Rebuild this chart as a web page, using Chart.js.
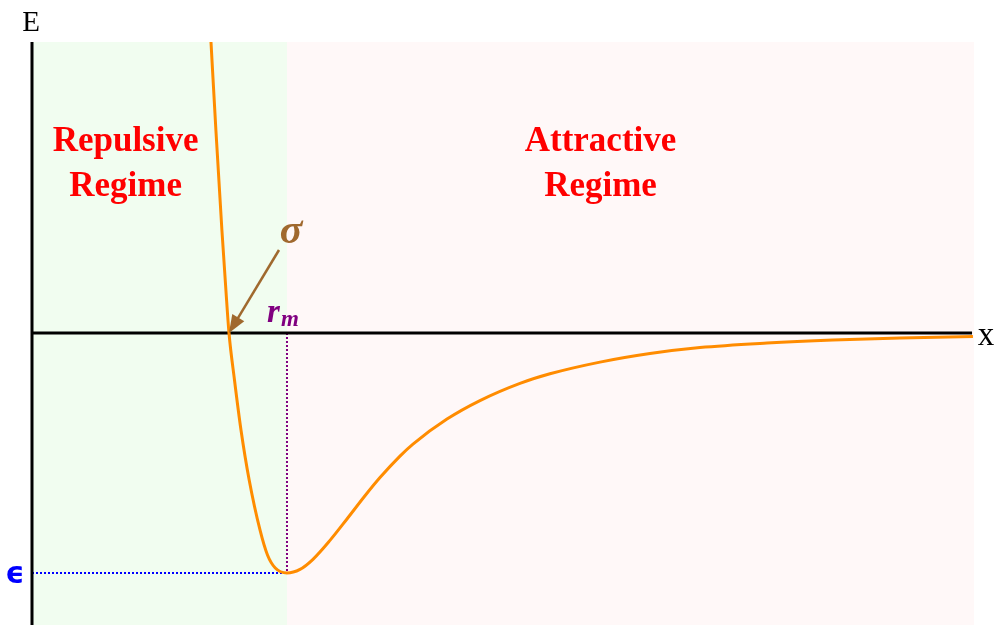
<!DOCTYPE html>
<html>
<head>
<meta charset="utf-8">
<script src="https://cdn.jsdelivr.net/npm/chart.js@4.4.0/dist/chart.umd.min.js"></script>
<style>
  body { margin: 0; background: #fff; }
  #wrap { width: 994px; height: 625px; }
</style>
</head>
<body>
<div id="wrap"><canvas id="chart" width="994" height="625"></canvas></div>
<script>
// separation r (in units of sigma) and energy E (in units of epsilon)
const rValues = [0.9086, 0.9335, 0.964, 0.9843, 1.0, 1.0279, 1.0609, 1.1025, 1.1574, 1.1954, 1.235,
  1.2944, 1.3604, 1.4264, 1.5127, 1.599, 1.6904, 1.7665, 1.868, 1.934, 2.1066, 2.2741, 2.4772,
  2.6294, 2.8832, 3.1371, 3.3909, 3.731, 4.066, 4.4061, 4.7766]
const energyValues = [1.2125, 0.8458, 0.4292, 0.1792, 0, -0.1958, -0.4042, -0.6125, -0.8208, -0.925, -0.9792,
  -1.0, -0.985, -0.9429, -0.8642, -0.775, -0.6783, -0.6025, -0.5129, -0.4629, -0.3588, -0.2817, -0.21,
  -0.17, -0.1213, -0.0854, -0.0604, -0.0417, -0.0292, -0.0208, -0.0146]

const sigma = 1.0
const rMin = 1.2944
const wellDepth = -1.0
const xRange = [0, 4.782]
const yRange = [-1.2167, 1.2125]
const xAxisEnd = 4.772

const regionLabels = [
  { lines: ['Repulsive', 'Regime'], x: 0.475 },
  { lines: ['Attractive', 'Regime'], x: 2.886 }
]

const curve = rValues.map((r, i) => ({ x: r, y: energyValues[i] }))

const backgrounds = {
  id: 'backgrounds',
  beforeDatasetsDraw(chart) {
    const { ctx, chartArea, scales: { x } } = chart
    const split = x.getPixelForValue(rMin)
    ctx.save()
    ctx.fillStyle = '#f1fdf0'
    ctx.fillRect(chartArea.left, chartArea.top, split - chartArea.left, chartArea.bottom - chartArea.top)
    ctx.fillStyle = '#fff8f8'
    ctx.fillRect(split, chartArea.top, chartArea.right - split, chartArea.bottom - chartArea.top)
    ctx.restore()
  }
}

const annotations = {
  id: 'annotations',
  afterDraw(chart) {
    const { ctx, scales: { x, y } } = chart
    ctx.save()
    ctx.textAlign = 'center'
    ctx.textBaseline = 'alphabetic'

    // region labels
    ctx.fillStyle = '#ff0000'
    ctx.font = 'bold 35px "Liberation Serif", "Times New Roman", serif'
    regionLabels.forEach(lbl => {
      const px = x.getPixelForValue(lbl.x)
      ctx.fillText(lbl.lines[0], px, 151)
      ctx.fillText(lbl.lines[1], px, 196)
    })

    // sigma arrow
    const tipX = x.getPixelForValue(sigma)
    const tipY = y.getPixelForValue(0)
    const startX = tipX + 50
    const startY = tipY - 83
    const ang = Math.atan2(tipY - startY, tipX - startX)
    const head = 18
    ctx.strokeStyle = '#a0692e'
    ctx.fillStyle = '#a0692e'
    ctx.lineWidth = 2.5
    ctx.beginPath()
    ctx.moveTo(startX, startY)
    ctx.lineTo(tipX - head * 0.8 * Math.cos(ang), tipY - head * 0.8 * Math.sin(ang))
    ctx.stroke()
    ctx.beginPath()
    ctx.moveTo(tipX, tipY)
    ctx.lineTo(tipX - head * Math.cos(ang) + 7 * Math.sin(ang), tipY - head * Math.sin(ang) - 7 * Math.cos(ang))
    ctx.lineTo(tipX - head * Math.cos(ang) - 7 * Math.sin(ang), tipY - head * Math.sin(ang) + 7 * Math.cos(ang))
    ctx.closePath()
    ctx.fill()
    ctx.font = 'bold italic 42px "Liberation Serif", serif'
    ctx.fillText('σ', tipX + 62, tipY - 90)

    // r_m label
    const rmX = x.getPixelForValue(rMin)
    ctx.fillStyle = '#800080'
    ctx.textAlign = 'left'
    ctx.font = 'bold italic 33px "Liberation Serif", serif'
    ctx.fillText('r', rmX - 20, tipY - 11)
    ctx.font = 'bold italic 23px "Liberation Serif", serif'
    ctx.fillText('m', rmX - 6, tipY - 7)

    // epsilon
    ctx.fillStyle = '#0000ff'
    ctx.textAlign = 'center'
    ctx.font = 'bold 30px "DejaVu Sans", sans-serif'
    ctx.fillText('ϵ', 15, y.getPixelForValue(wellDepth) + 10)

    // axis names
    ctx.fillStyle = '#000'
    ctx.font = '29px "Liberation Serif", serif'
    ctx.fillText('E', 31, 31)
    ctx.font = '33px "Liberation Serif", serif'
    ctx.fillText('x', 986, 345)
    ctx.restore()
  }
}

new Chart(document.getElementById('chart'), {
  type: 'scatter',
  data: {
    datasets: [
      {
        label: 'E(r)',
        data: curve,
        showLine: true,
        borderColor: '#ff8c00',
        borderWidth: 3,
        pointRadius: 0,
        cubicInterpolationMode: 'monotone',
        order: 1
      },
      {
        label: 'epsilon',
        data: [{ x: xRange[0], y: wellDepth }, { x: rMin, y: wellDepth }],
        showLine: true,
        borderColor: '#0000ff',
        borderWidth: 2,
        borderDash: [2, 2],
        pointRadius: 0,
        order: 3
      },
      {
        label: 'r_m',
        data: [{ x: rMin, y: 0 }, { x: rMin, y: wellDepth }],
        showLine: true,
        borderColor: '#800080',
        borderWidth: 2,
        borderDash: [2, 2],
        pointRadius: 0,
        order: 3
      },
      {
        label: 'x axis',
        data: [{ x: xRange[0], y: 0 }, { x: xAxisEnd, y: 0 }],
        showLine: true,
        borderColor: '#000',
        borderWidth: 3,
        pointRadius: 0,
        clip: false,
        order: 2
      },
      {
        label: 'E axis',
        data: [{ x: xRange[0], y: yRange[0] }, { x: xRange[0], y: yRange[1] }],
        showLine: true,
        borderColor: '#000',
        borderWidth: 3,
        pointRadius: 0,
        clip: false,
        order: 2
      }
    ]
  },
  options: {
    responsive: false,
    animation: false,
    layout: {
      padding: { left: 32, top: 42, right: 20, bottom: 0 }
    },
    plugins: {
      legend: { display: false },
      tooltip: { enabled: false }
    },
    scales: {
      x: { type: 'linear', min: xRange[0], max: xRange[1], display: false },
      y: { type: 'linear', min: yRange[0], max: yRange[1], display: false }
    }
  },
  plugins: [backgrounds, annotations]
})
</script>
</body>
</html>
